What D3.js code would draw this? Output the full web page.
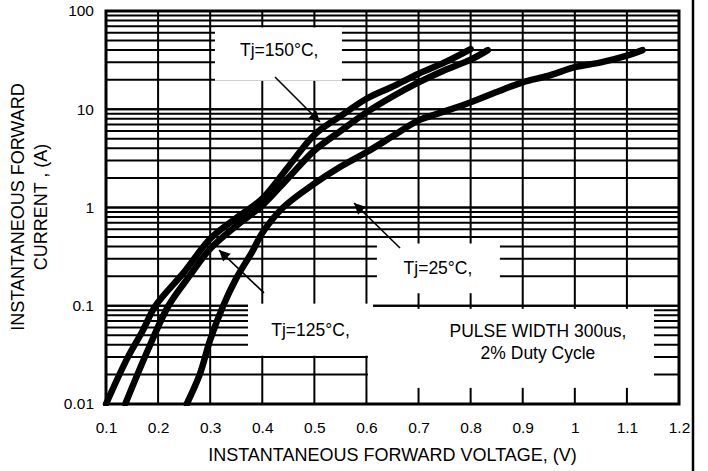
<!DOCTYPE html>
<html><head><meta charset="utf-8">
<script src="https://cdn.jsdelivr.net/npm/d3@7"></script>
<style>body{margin:0;background:#fff}svg{display:block}text{font-family:"Liberation Sans",Arial,sans-serif;fill:#000}</style>
</head><body>
<svg id="c" width="708" height="471"></svg>
<script>
// ---- data ----
const xTicks = [0.1,0.2,0.3,0.4,0.5,0.6,0.7,0.8,0.9,1,1.1,1.2];
const xTickLabels = ["0.1","0.2","0.3","0.4","0.5","0.6","0.7","0.8","0.9","1","1.1","1.2"];
const yTicks = [0.01,0.1,1,10,100];
const yTickLabels = ["0.01","0.1","1","10","100"];

const v150 = [0.10,0.142,0.17,0.195,0.25,0.30,0.35,0.40,0.45,0.50,0.55,0.60,0.65,0.70,0.75,0.80];
const i150 = [0.01,0.03,0.055,0.1,0.22,0.48,0.78,1.23,2.6,5.5,8.5,12.8,17,23,30,41];
const v125 = [0.137,0.18,0.22,0.26,0.30,0.35,0.40,0.45,0.50,0.55,0.60,0.65,0.70,0.75,0.80,0.833];
const i125 = [0.01,0.035,0.1,0.2,0.38,0.65,1.05,2.0,3.8,6.0,9.3,13.5,18.8,25,32,40];
const v25 = [0.255,0.28,0.30,0.325,0.35,0.38,0.40,0.44,0.50,0.55,0.60,0.65,0.70,0.75,0.80,0.85,0.90,0.95,1.00,1.05,1.10,1.13];
const i25 = [0.01,0.02,0.045,0.1,0.19,0.35,0.55,1.0,1.75,2.6,3.65,5.3,7.7,9.5,11.8,15,18.8,22,26.8,30,35.2,40];

const seriesNames = ["Tj=150°C,","Tj=125°C,","Tj=25°C,"];
const noteLines = ["PULSE WIDTH 300us,","2% Duty Cycle"];
const xTitle = "INSTANTANEOUS FORWARD VOLTAGE, (V)";
const yTitleLines = ["INSTANTANEOUS FORWARD","CURRENT , (A)"];

// ---- layout ----
const L=106, R=679, T=11, B=404;
const svg = d3.select("#c");
const x = d3.scaleLinear().domain([0.1,1.2]).range([L,R]);
const y = d3.scaleLog().domain([0.01,100]).range([B,T]);

// grid
const g = svg.append("g");
const hLines = [];
for (let e=-2;e<2;e++) for (let k=1;k<=10;k++) hLines.push(k*Math.pow(10,e));
g.selectAll("line.h").data(hLines).join("line")
  .attr("x1",L).attr("x2",R).attr("y1",d=>y(d)).attr("y2",d=>y(d))
  .attr("stroke","#000").attr("stroke-width",2);
g.selectAll("line.v").data(xTicks).join("line")
  .attr("x1",d=>x(d)).attr("x2",d=>x(d)).attr("y1",T).attr("y2",B)
  .attr("stroke","#000").attr("stroke-width",2);

// white label boxes (data units)
const boxes = [
  {x0:0.3092,x1:0.553,y0:68,y1:19.5},
  {x0:0.3726,x1:0.6126,y0:0.105,y1:0.031},
  {x0:0.6201,x1:0.8562,y0:0.43,y1:0.134},
  {x0:0.6028,x1:1.152,y0:0.093,y1:0.0146},
];
svg.selectAll("rect.box").data(boxes).join("rect")
  .attr("x",d=>x(d.x0)).attr("y",d=>y(d.y0))
  .attr("width",d=>x(d.x1)-x(d.x0)).attr("height",d=>y(d.y1)-y(d.y0))
  .attr("fill","#fff");

// border
svg.append("rect").attr("x",L).attr("y",T).attr("width",R-L).attr("height",B-T)
  .attr("fill","none").attr("stroke","#000").attr("stroke-width",3);
svg.append("line").attr("x1",693).attr("x2",693).attr("y1",0).attr("y2",471).attr("stroke","#000").attr("stroke-width",2.5);

// curves
const line = d3.line().x(d=>x(d[0])).y(d=>y(d[1])).curve(d3.curveCatmullRom.alpha(0.5));
const curves = [d3.zip(v150,i150), d3.zip(v125,i125), d3.zip(v25,i25)];
svg.selectAll("path.c").data(curves).join("path")
  .attr("d",line).attr("fill","none").attr("stroke","#000")
  .attr("stroke-width",6.5).attr("stroke-linecap","round").attr("stroke-linejoin","round");
// clip bottom overflow
svg.append("rect").attr("x",L-10).attr("y",B+2).attr("width",R-L+20).attr("height",8).attr("fill","#fff");

// arrows
svg.append("defs").append("marker").attr("id","ah").attr("viewBox","0 0 10 10")
  .attr("refX",10).attr("refY",5).attr("markerWidth",14).attr("markerHeight",11)
  .attr("markerUnits","userSpaceOnUse").attr("orient","auto")
  .append("path").attr("d","M0,0L10,5L0,10z").attr("fill","#000");
const arrows = [
  {from:[0.4244,21.3],to:[0.5108,7.41]},
  {from:[0.4033,0.135],to:[0.3169,0.369]},
  {from:[0.6644,0.387],to:[0.5761,1.11]},
];
svg.selectAll("line.a").data(arrows).join("line")
  .attr("x1",d=>x(d.from[0])).attr("y1",d=>y(d.from[1]))
  .attr("x2",d=>x(d.to[0])).attr("y2",d=>y(d.to[1]))
  .attr("stroke","#000").attr("stroke-width",1.6).attr("marker-end","url(#ah)");

// labels
const labelPos = [[0.4325,40],[0.4926,0.057],[0.7373,0.24]];
svg.selectAll("text.lab").data(seriesNames).join("text")
  .attr("x",(d,i)=>x(labelPos[i][0])).attr("y",(d,i)=>y(labelPos[i][1]))
  .attr("text-anchor","middle").attr("dominant-baseline","central")
  .attr("font-size",17.5).text(d=>d);
svg.selectAll("text.note").data(noteLines).join("text")
  .attr("x",x(0.9293)).attr("y",(d,i)=>y(0.0555)+i*22)
  .attr("text-anchor","middle").attr("dominant-baseline","central")
  .attr("font-size",17.5).text(d=>d);

// axes
const xa = svg.append("g").attr("transform",`translate(0,${B})`)
  .call(d3.axisBottom(x).tickValues(xTicks).tickFormat((d,i)=>xTickLabels[i]).tickSize(0).tickPadding(18));
xa.select(".domain").remove();
xa.selectAll("text").attr("font-size",15.5).attr("font-family","Liberation Sans, Arial, sans-serif");
const ya = svg.append("g").attr("transform",`translate(${L},0)`)
  .call(d3.axisLeft(y).tickValues(yTicks).tickFormat((d,i)=>yTickLabels[i]).tickSize(0).tickPadding(12));
ya.select(".domain").remove();
ya.selectAll("text").attr("font-size",15.5).attr("font-family","Liberation Sans, Arial, sans-serif");

svg.append("text").attr("x",(L+R)/2).attr("y",455).attr("text-anchor","middle")
  .attr("dominant-baseline","central").attr("font-size",18).text(xTitle);
svg.selectAll("text.yt").data(yTitleLines).join("text")
  .attr("transform",(d,i)=>`translate(${18+i*23},207) rotate(-90)`)
  .attr("text-anchor","middle").attr("dominant-baseline","central")
  .attr("font-size",18).text(d=>d);
</script>
</body></html>
